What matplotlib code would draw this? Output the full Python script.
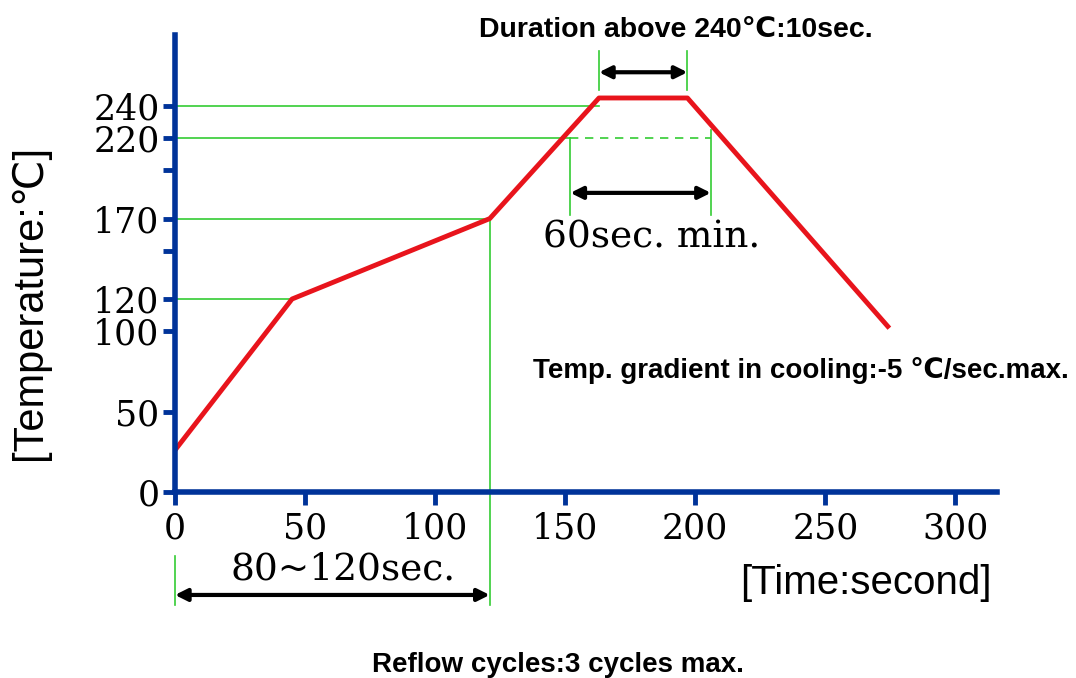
import matplotlib
matplotlib.use("Agg")
import matplotlib.pyplot as plt

# reflow profile (time s, temperature C)
profile_t = [0, 45, 121, 163, 197, 274]
profile_temp = [26, 120, 170, 245, 245, 103]

ytick_major = [0, 50, 100, 120, 170, 220, 240]
ytick_minor = [150, 200]
xtick_major = [0, 50, 100, 150, 200, 250, 300]

blue = '#003399'
green = '#33cc33'
red = '#e8141c'
serif = ['DejaVu Serif']
sans = ['Liberation Sans', 'DejaVu Sans', 'Noto Sans CJK SC']

fig = plt.figure(figsize=(10.76, 6.78), dpi=100)
ax = fig.add_axes([0.1626, 0.2743, 0.7640, 0.6737])
ax.set_xlim(0, 316)
ax.set_ylim(0, 284)

for s in ['top', 'right']:
    ax.spines[s].set_visible(False)
for s in ['left', 'bottom']:
    ax.spines[s].set_color(blue)
    ax.spines[s].set_linewidth(4)

ax.set_xticks(xtick_major)
ax.set_yticks(ytick_major)
ax.set_yticks(ytick_minor, minor=True)
ax.tick_params(which='both', direction='out', length=9, width=3.5, color=blue,
               labelsize=25)
ax.tick_params(axis='x', pad=5)
ax.tick_params(axis='y', pad=2)
for lab in ax.get_xticklabels() + ax.get_yticklabels():
    lab.set_fontfamily(serif)

# green guide lines
kw = dict(color=green, lw=1.2, clip_on=False)
ax.plot([0, 163], [240, 240], **kw)
ax.plot([0, 152], [220, 220], **kw)
ax.plot([152, 206], [220, 220], ls=(0, (5, 4)), color=green, lw=1.2)
ax.plot([0, 121], [170, 170], **kw)
ax.plot([0, 45], [120, 120], **kw)
ax.plot([121, 121], [170, -70], **kw)
ax.plot([0, 0], [-40, -70], **kw)
ax.plot([152, 152], [220, 172], **kw)
ax.plot([206, 206], [225, 172], **kw)
ax.plot([163, 163], [274, 250], **kw)
ax.plot([197, 197], [274, 250], **kw)

# profile
ax.plot(profile_t, profile_temp, color=red, lw=3.5, solid_joinstyle='round')

# arrows
akw = dict(arrowstyle='<|-|>', color='black', lw=3, mutation_scale=18,
           shrinkA=0, shrinkB=0)
ax.annotate('', xy=(163, 261), xytext=(197, 261), arrowprops=akw,
            annotation_clip=False)
ax.annotate('', xy=(152, 186), xytext=(206, 186), arrowprops=akw)
ax.annotate('', xy=(0, -64), xytext=(121, -64), arrowprops=akw,
            annotation_clip=False)

# texts
fig.text(676 / 1076, 1 - 30 / 678, 'Duration above 240\u2103:10sec.',
         ha='center', va='center', fontsize=20.5, fontweight='bold', family=sans)
fig.text(652 / 1076, 1 - 238 / 678, '60sec. min.', ha='center', va='center',
         fontsize=27, family=serif)
fig.text(801 / 1076, 1 - 370 / 678,
         'Temp. gradient in cooling:-5 \u2103/sec.max.',
         ha='center', va='center', fontsize=20, fontweight='bold', family=sans)
fig.text(343 / 1076, 1 - 570 / 678, '80~120sec.', ha='center', va='center',
         fontsize=27, family=serif)
fig.text(992 / 1076, 1 - 583 / 678, '[Time:second]', ha='right', va='center',
         fontsize=29, family=sans)
fig.text(558 / 1076, 1 - 665 / 678, 'Reflow cycles:3 cycles max.',
         ha='center', va='center', fontsize=20, fontweight='bold', family=sans)
fig.text(30 / 1076, 1 - 302 / 678, '[Temperature:\u2103]', ha='center',
         va='center', rotation=90, fontsize=30, family=sans)

fig.savefig('out.png', dpi=100)
